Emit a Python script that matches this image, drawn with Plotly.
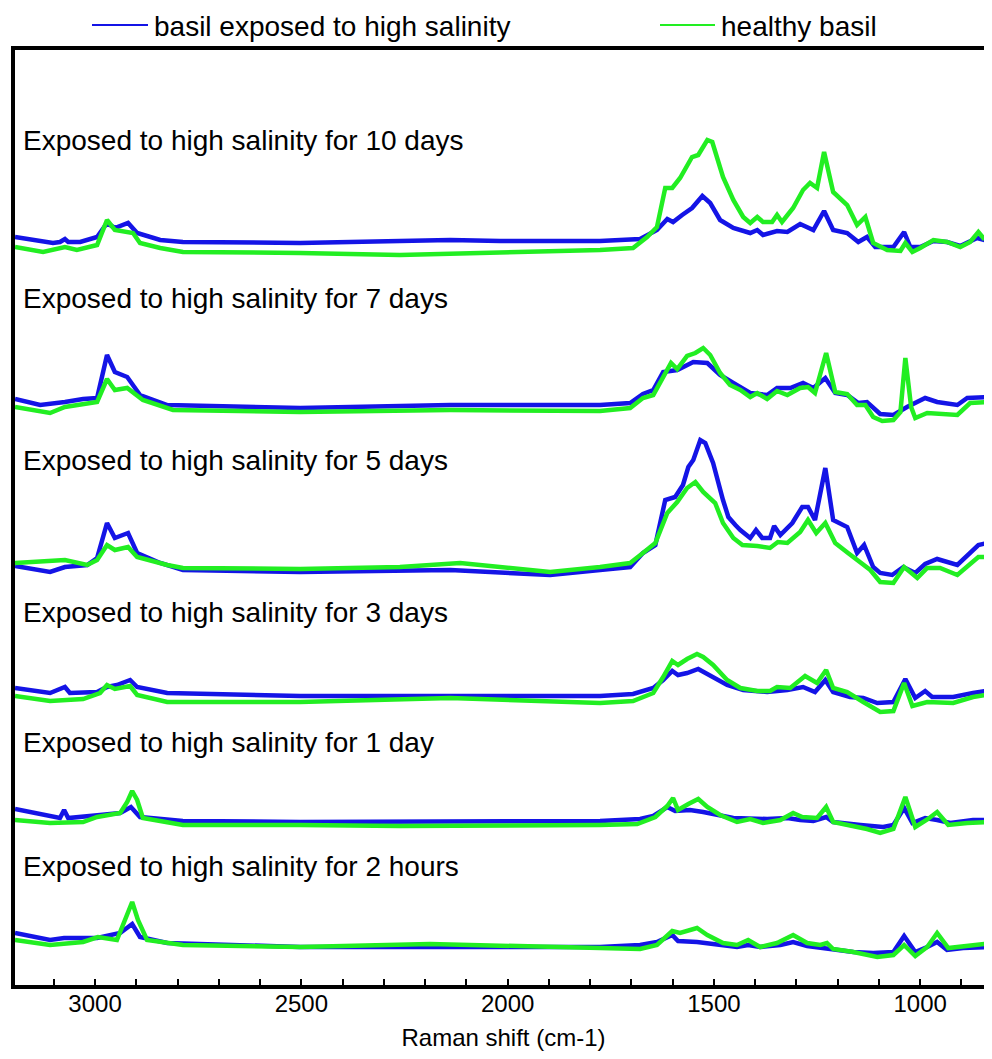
import plotly.graph_objects as go

# ---------------- data (wavenumber cm-1, intensity a.u. relative to panel baseline) ----------------
panel_labels = [
    "Exposed to high salinity for 10 days",
    "Exposed to high salinity for 7 days",
    "Exposed to high salinity for 5 days",
    "Exposed to high salinity for 3 days",
    "Exposed to high salinity for 1 day",
    "Exposed to high salinity for 2 hours",
]
panel_offsets = [742, 577, 413, 289, 163, 38]

# 10 days
wn_10d_salt = [3194, 3150, 3102, 3085, 3073, 3065, 3036, 2995, 2971, 2952, 2920, 2898, 2842, 2787, 2503, 2261, 2139, 2018, 1776, 1679, 1638, 1613, 1599, 1577, 1553, 1528, 1509, 1485, 1453, 1412, 1395, 1381, 1347, 1322, 1291, 1259, 1233, 1211, 1177, 1150, 1129, 1109, 1065, 1039, 1024, 1000, 968, 935, 903, 862, 826]
int_10d_salt = [6, 3, 0, 1, 4, 1, 1, 6, 20, 15, 20, 10, 3, 1, 0, 2, 3, 2, 2, 4, 13, 24, 21, 28, 35, 47, 40, 23, 15, 10, 13, 8, 12, 11, 19, 13, 32, 13, 10, 1, 6, -4, -4, 11, -4, -4, 2, 1, -3, 5, 1]
wn_10d_healthy = [3194, 3126, 3073, 3044, 2995, 2971, 2952, 2922, 2908, 2891, 2842, 2787, 2503, 2261, 2018, 1776, 1696, 1662, 1638, 1618, 1601, 1582, 1553, 1538, 1516, 1504, 1478, 1453, 1429, 1412, 1395, 1381, 1359, 1347, 1335, 1308, 1284, 1267, 1250, 1233, 1211, 1177, 1153, 1133, 1114, 1080, 1048, 1036, 1019, 1000, 968, 935, 903, 879, 859, 847, 826]
int_10d_healthy = [-4, -9, -4, -7, -2, 23, 13, 11, 10, 0, -5, -9, -10, -12, -10, -7, -5, 6, 16, 55, 55, 65, 86, 88, 103, 101, 66, 43, 26, 20, 26, 21, 21, 28, 21, 35, 53, 60, 55, 91, 51, 38, 18, 26, 0, -7, -8, 0, -9, -5, 3, 1, -4, 1, 11, 5, 8]

# 7 days
wn_7d_salt = [3194, 3133, 3073, 3029, 2995, 2971, 2952, 2922, 2891, 2825, 2503, 2139, 1897, 1776, 1703, 1672, 1647, 1623, 1589, 1550, 1516, 1485, 1453, 1412, 1371, 1347, 1315, 1284, 1259, 1230, 1206, 1177, 1150, 1129, 1097, 1065, 1032, 988, 959, 910, 886, 838, 826]
int_7d_salt = [9, 3, 6, 9, 10, 53, 36, 31, 13, 3, 0, 3, 3, 3, 5, 14, 18, 36, 38, 46, 45, 33, 25, 15, 13, 20, 20, 25, 20, 30, 15, 13, 5, 6, -6, -7, 1, 10, 6, 3, 10, 11, 26]
wn_7d_healthy = [3194, 3109, 3073, 2995, 2971, 2952, 2922, 2908, 2884, 2811, 2503, 2139, 1776, 1703, 1672, 1647, 1623, 1604, 1589, 1565, 1545, 1526, 1509, 1485, 1461, 1436, 1412, 1395, 1371, 1347, 1322, 1291, 1272, 1255, 1228, 1206, 1177, 1153, 1133, 1114, 1092, 1065, 1048, 1036, 1022, 1012, 983, 910, 879, 838, 826]
int_7d_healthy = [1, -5, 1, 6, 29, 18, 20, 16, 8, -2, -4, -2, -3, 0, 10, 13, 31, 45, 39, 52, 55, 60, 53, 35, 23, 18, 11, 15, 9, 17, 13, 20, 21, 15, 55, 16, 14, 3, 3, -9, -13, -12, -4, 50, 1, -10, -5, -7, 5, 6, 13]

# 5 days
wn_5d_salt = [3194, 3109, 3073, 3019, 2995, 2971, 2952, 2920, 2898, 2842, 2787, 2503, 2139, 1897, 1776, 1703, 1672, 1642, 1618, 1594, 1575, 1562, 1550, 1533, 1521, 1502, 1478, 1465, 1448, 1436, 1412, 1398, 1383, 1364, 1354, 1339, 1310, 1286, 1272, 1255, 1230, 1211, 1177, 1153, 1136, 1114, 1097, 1068, 1041, 1012, 988, 959, 910, 859, 826]
int_5d_salt = [6, 0, 5, 7, 14, 49, 34, 39, 19, 9, 2, 0, 2, -3, 2, 5, 19, 27, 72, 75, 87, 105, 112, 132, 129, 109, 72, 55, 47, 42, 34, 42, 34, 34, 46, 37, 49, 65, 65, 52, 104, 52, 45, 19, 27, 5, -1, -3, 5, -1, 8, 13, 7, 27, 30]
wn_5d_healthy = [3194, 3073, 3019, 2995, 2971, 2952, 2920, 2898, 2825, 2787, 2503, 2261, 2115, 1897, 1776, 1703, 1672, 1642, 1613, 1589, 1565, 1545, 1526, 1497, 1478, 1453, 1431, 1395, 1364, 1345, 1322, 1291, 1272, 1252, 1230, 1206, 1175, 1138, 1121, 1097, 1065, 1039, 1007, 983, 952, 910, 859, 826]
int_5d_healthy = [9, 12, 7, 12, 27, 22, 25, 15, 7, 4, 3, 5, 9, 0, 5, 9, 19, 29, 59, 70, 84, 90, 80, 69, 49, 34, 27, 26, 24, 30, 29, 40, 52, 39, 49, 29, 19, 8, 2, -10, -11, 5, -6, 4, 4, -3, 15, 15]

# 3 days
wn_3d_salt = [3194, 3109, 3073, 3061, 2995, 2971, 2947, 2915, 2898, 2825, 2503, 1776, 1696, 1647, 1623, 1601, 1587, 1565, 1538, 1509, 1468, 1429, 1371, 1322, 1284, 1255, 1230, 1211, 1170, 1138, 1104, 1065, 1036, 1012, 988, 971, 920, 872, 826]
int_3d_salt = [8, 3, 9, 3, 4, 9, 11, 16, 9, 3, 0, 0, 2, 8, 16, 25, 21, 23, 27, 20, 11, 6, 4, 6, 9, 4, 16, 4, -1, -2, -7, -6, 17, -2, 5, -1, -1, 3, 6]
wn_3d_healthy = [3194, 3109, 3029, 2988, 2971, 2952, 2915, 2898, 2825, 2503, 2139, 1776, 1696, 1647, 1623, 1601, 1587, 1565, 1541, 1526, 1502, 1468, 1436, 1395, 1364, 1347, 1315, 1279, 1250, 1228, 1211, 1177, 1138, 1097, 1065, 1039, 1019, 983, 920, 872, 826]
int_3d_healthy = [0, -5, -3, 3, 11, 7, 10, 1, -6, -6, -2, -7, -5, 3, 19, 35, 31, 37, 42, 39, 31, 16, 8, 5, 5, 9, 8, 20, 13, 26, 8, 4, -6, -16, -15, 13, -10, -6, -7, -1, 2]

# 1 day
wn_1d_salt = [3194, 3150, 3085, 3075, 3065, 2988, 2939, 2913, 2891, 2787, 2503, 1776, 1679, 1647, 1613, 1594, 1558, 1526, 1492, 1453, 1371, 1322, 1291, 1259, 1228, 1211, 1145, 1090, 1065, 1039, 1019, 988, 959, 927, 872, 826]
int_1d_salt = [13, 9, 4, 12, 4, 7, 9, 15, 5, 1, 0, 1, 3, 6, 15, 11, 12, 10, 7, 4, 3, 4, 2, 1, 5, 0, -3, -5, -3, 14, -1, 4, 2, -1, 2, 2]
wn_1d_healthy = [3194, 3109, 3029, 2995, 2939, 2922, 2910, 2898, 2884, 2787, 2503, 2261, 1776, 1686, 1642, 1613, 1599, 1587, 1562, 1538, 1516, 1485, 1444, 1412, 1381, 1339, 1308, 1286, 1250, 1228, 1211, 1170, 1129, 1097, 1065, 1036, 1012, 981, 959, 932, 886, 826]
int_1d_healthy = [2, -1, 0, 5, 9, 20, 31, 22, 4, -3, -3, -4, -3, -2, 5, 16, 24, 12, 18, 23, 15, 7, 0, 3, -1, 2, 9, 5, 4, 15, 0, -3, -7, -11, -7, 25, -5, 3, 10, -3, -1, 0]

# 2 hours
wn_2h_salt = [3194, 3109, 3075, 2995, 2939, 2910, 2891, 2825, 2503, 1776, 1679, 1638, 1601, 1587, 1541, 1492, 1444, 1417, 1388, 1339, 1308, 1274, 1235, 1211, 1162, 1114, 1065, 1039, 1012, 983, 959, 935, 896, 826]
int_2h_salt = [14, 7, 9, 9, 14, 23, 10, 4, 0, 0, 2, 5, 12, 6, 5, 2, 0, 2, 0, 2, 5, 1, -1, -3, -5, -6, -5, 11, -5, 0, 5, -3, -1, 0]
wn_2h_healthy = [3194, 3109, 3029, 2993, 2947, 2927, 2910, 2896, 2874, 2787, 2503, 2188, 1776, 1679, 1638, 1618, 1601, 1582, 1541, 1516, 1478, 1444, 1417, 1388, 1347, 1308, 1274, 1242, 1226, 1211, 1162, 1104, 1065, 1039, 1012, 983, 959, 932, 886, 826]
int_2h_healthy = [7, 2, 5, 10, 7, 27, 45, 27, 7, 2, 0, 3, -1, -2, 2, 10, 16, 14, 19, 12, 4, 2, 7, 0, 4, 12, 4, 2, 4, -2, -5, -10, -8, 2, -9, 0, 14, -1, 1, 4]

x_tick_values = [3000, 2500, 2000, 1500, 1000]
x_range = [3194, 826]
series_names = ["basil exposed to high salinity", "healthy basil"]
series_colors = ["#1414E6", "#22EE22"]

salt_wn = [wn_10d_salt, wn_7d_salt, wn_5d_salt, wn_3d_salt, wn_1d_salt, wn_2h_salt]
salt_int = [int_10d_salt, int_7d_salt, int_5d_salt, int_3d_salt, int_1d_salt, int_2h_salt]
healthy_wn = [wn_10d_healthy, wn_7d_healthy, wn_5d_healthy, wn_3d_healthy, wn_1d_healthy, wn_2h_healthy]
healthy_int = [int_10d_healthy, int_7d_healthy, int_5d_healthy, int_3d_healthy, int_1d_healthy, int_2h_healthy]

# ---------------- figure ----------------
FONT = "Liberation Sans, Arial, sans-serif"
BODY = 8                      # default page body margin of the html page
W, H = 992 - BODY, 1059 - 2 * BODY
# plot area in page pixels: x 15..992, y 50..985
ML, MR, MT = 15 - BODY, 0, 50 - BODY
MB = H - (985 - BODY)
plot_w = W - ML - MR
plot_h = H - MT - MB


def px_x(page_x):
    return (page_x - BODY - ML) / plot_w


def px_y(page_y):
    return (H - MB - (page_y - BODY)) / plot_h


fig = go.Figure()
for i in range(len(panel_labels)):
    off = panel_offsets[i]
    fig.add_trace(go.Scatter(
        x=salt_wn[i], y=[v + off for v in salt_int[i]], mode="lines",
        name=series_names[0], legendgroup="salt", showlegend=False,
        line=dict(color=series_colors[0], width=4.5)))
    fig.add_trace(go.Scatter(
        x=healthy_wn[i], y=[v + off for v in healthy_int[i]], mode="lines",
        name=series_names[1], legendgroup="healthy", showlegend=False,
        line=dict(color=series_colors[1], width=4.5)))

# panel labels
label_page_y = [140, 298, 460, 612, 742, 866]
for lab, py in zip(panel_labels, label_page_y):
    fig.add_annotation(
        text=lab, xref="paper", yref="paper",
        x=px_x(21), y=px_y(py),
        xanchor="left", yanchor="middle", showarrow=False,
        font=dict(family=FONT, size=28, color="black"))

# manual legend at top
leg_items = [(92, 148, series_names[0], series_colors[0]),
             (660, 715, series_names[1], series_colors[1])]
leg_py = 26
for x0, x1, name, col in leg_items:
    fig.add_shape(type="line", xref="paper", yref="paper",
                  x0=px_x(x0), x1=px_x(x1), y0=px_y(leg_py - 1), y1=px_y(leg_py - 1),
                  line=dict(color=col, width=2))
    fig.add_annotation(
        text=name, xref="paper", yref="paper",
        x=px_x(x1 + 5), y=px_y(leg_py),
        xanchor="left", yanchor="middle", showarrow=False, borderpad=0,
        font=dict(family=FONT, size=28, color="black"))

fig.update_layout(
    width=W, height=H,
    margin=dict(l=ML, r=MR, t=MT, b=MB, pad=0),
    paper_bgcolor="white", plot_bgcolor="white",
    showlegend=False,
    font=dict(family=FONT, color="black"),
    xaxis=dict(
        range=x_range, tickvals=x_tick_values,
        ticktext=[str(v) for v in x_tick_values],
        ticks="inside", ticklen=6, tickwidth=1.5, tickcolor="black",
        minor=dict(dtick=100, tick0=0, ticks="inside", ticklen=6, tickwidth=1.5, tickcolor="black"),
        showline=True, linewidth=4, linecolor="black", mirror=True,
        showgrid=False, zeroline=False,
        ticklabelstandoff=-6,
        tickfont=dict(family=FONT, size=24, color="black"),
        title=dict(text="Raman shift (cm-1)", font=dict(family=FONT, size=24, color="black"), standoff=16),
    ),
    yaxis=dict(
        range=[0, plot_h], showticklabels=False, showgrid=False, zeroline=False,
        showline=True, linewidth=4, linecolor="black", ticks="",
    ),
)

fig.write_html("out.html")
